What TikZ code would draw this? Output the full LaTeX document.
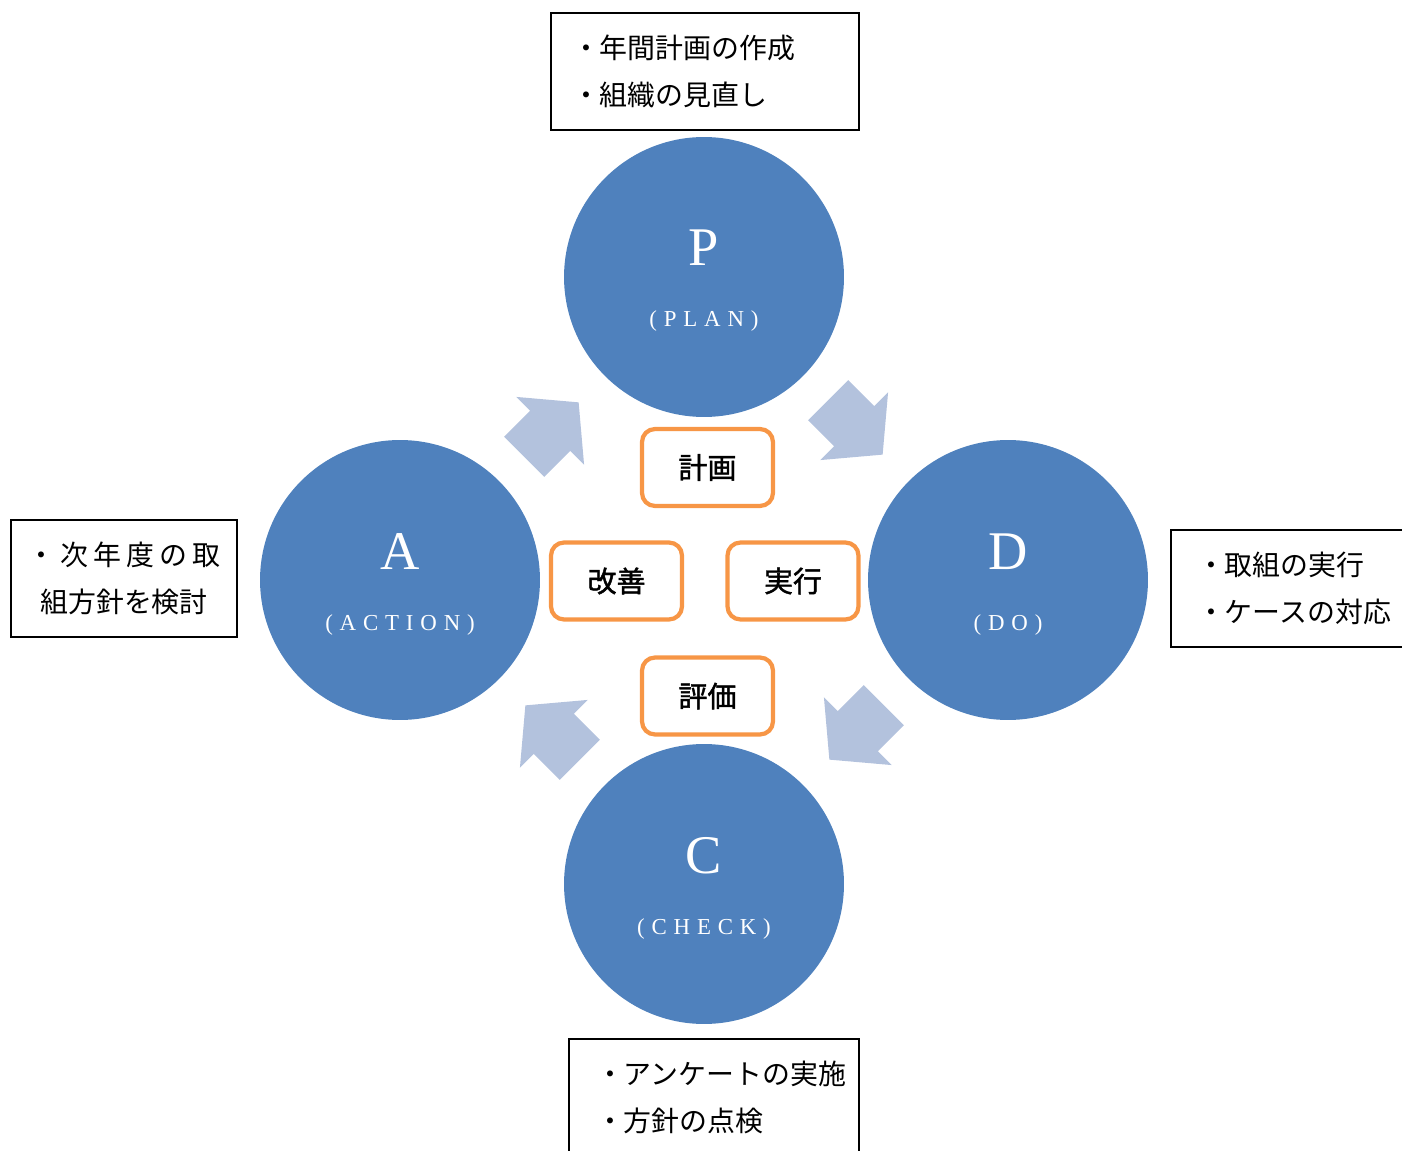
\documentclass[tikz,border=0pt]{standalone}
\usepackage{fontspec}
\setmainfont{Liberation Serif}
\newfontfamily\cjk{Noto Sans CJK JP}
\newfontfamily\cjkbold{Noto Sans CJK JP}[FakeBold=1.5]
\newfontfamily\cjkwide{Noto Sans CJK JP}[LetterSpace=18]
\newfontfamily\spaced{Liberation Serif}[LetterSpace=30]
\usetikzlibrary{shapes.arrows,calc}
\definecolor{phaseblue}{HTML}{4F81BD}
\definecolor{cyclearrow}{HTML}{B3C2DD}
\definecolor{keyorange}{HTML}{F79646}

\begin{document}
\begin{tikzpicture}[x=0.02cm, y=-0.02cm,
    phase/.style={circle, fill=phaseblue, minimum size=5.6cm, inner sep=0pt},
    bigletter/.style={text=white, anchor=base, inner sep=0pt, font=\fontsize{31}{31}\selectfont},
    subletter/.style={text=white, anchor=base, inner sep=0pt, font=\spaced\fontsize{13}{13}\selectfont},
    cyclearr/.style={single arrow, fill=cyclearrow, minimum height=1.54cm,
        inner xsep=0pt, inner ysep=0.56cm,
        single arrow head extend=0.39cm, single arrow tip angle=100},
    keybox/.style={draw=keyorange, line width=2.4pt, rounded corners=0.26cm, fill=white,
        minimum width=2.62cm, minimum height=1.54cm, font=\cjkbold\fontsize{16.5}{16.5}\selectfont},
    notebox/.style={draw, line width=0.7pt, minimum height=2.34cm, inner ysep=0pt,
        font=\cjk\fontsize{15.9}{26.8}\selectfont}]
    \useasboundingbox (0,0) rectangle (1402,1151);

    % PDCA circles
    \node[phase] (P) at (704,277) {};
    \node[phase] (D) at (1008,580) {};
    \node[phase] (C) at (704,884) {};
    \node[phase] (A) at (400,580) {};

    \node[bigletter] (Pl) at ($(P)+(0,-11)$) {P};
    \node[subletter] (Ps) at ($(P)+(0,50)$) {(PLAN)};
    \node[bigletter] (Dl) at ($(D)+(0,-11)$) {D};
    \node[subletter] (Ds) at ($(D)+(0,50)$) {(DO)};
    \node[bigletter] (Cl) at ($(C)+(0,-11)$) {C};
    \node[subletter] (Cs) at ($(C)+(0,50)$) {(CHECK)};
    \node[bigletter] (Al) at ($(A)+(0,-11)$) {A};
    \node[subletter] (As) at ($(A)+(0,50)$) {(ACTION)};

    % cycle arrows
    \node[cyclearr, rotate=45] (AtoP) at (543,438) {};
    \node[cyclearr, rotate=-45] (PtoD) at (847,419) {};
    \node[cyclearr, rotate=-135] (DtoC) at (865,724) {};
    \node[cyclearr, rotate=135] (CtoA) at (561,741) {};

    % keywords in the middle
    \node[keybox] (plan) at (707.5,467.5) {計画};
    \node[keybox] (act) at (616.5,581) {改善};
    \node[keybox] (do) at (793,581) {実行};
    \node[keybox] (check) at (707.5,696) {評価\hspace{0.5em}};

    % notes
    \node[notebox, text width=5.32cm, inner xsep=0.42cm, align=left] (plannote) at (705,71.5)
        {・年間計画の作成\\・組織の見直し};
    \node[notebox, text width=4.2cm, inner xsep=0.16cm, align=center] (actnote) at (124,578.5)
        {{\cjkwide ・次年度の取}\\組方針を検討};
    \node[notebox, text width=4.16cm, inner xsep=0.52cm, align=left] (donote) at (1301,588.5)
        {・取組の実行\\・ケースの対応};
    \node[notebox, text width=4.72cm, inner xsep=0.54cm, align=left] (checknote) at (714,1097.5)
        {・アンケートの実施\\・方針の点検};
\end{tikzpicture}
\end{document}
